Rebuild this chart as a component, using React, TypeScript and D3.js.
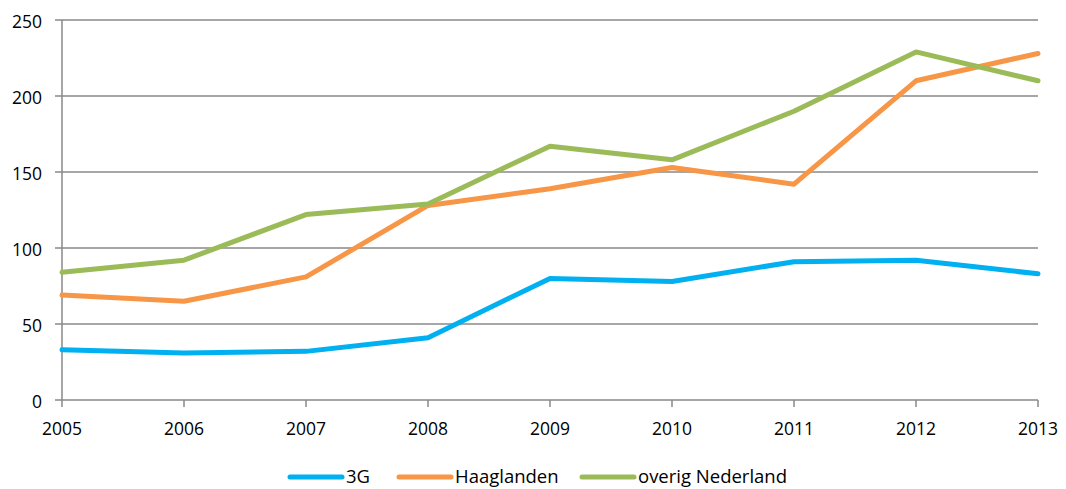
import React from "react";
import * as d3 from "d3";

const years = [2005, 2006, 2007, 2008, 2009, 2010, 2011, 2012, 2013];
const g3 = [33, 31, 32, 41, 80, 78, 91, 92, 83];
const haaglanden = [69, 65, 81, 128, 139, 153, 142, 210, 228];
const overig = [84, 92, 122, 129, 167, 158, 190, 229, 210];
const yTicks = [0, 50, 100, 150, 200, 250];

const seriesNames = ["3G", "Haaglanden", "overig Nederland"];
const seriesColors = ["#00B0F0", "#F79646", "#9BBB59"];
const seriesValues = [g3, haaglanden, overig];

export default function App() {
  const W = 1066, H = 489;
  const x = d3.scaleLinear().domain([2005, 2013]).range([62, 1038]);
  const y = d3.scaleLinear().domain([0, 250]).range([400, 20]);
  const line = d3
    .line<number>()
    .x((_, i) => x(years[i]))
    .y((d) => y(d));
  const font = "'Open Sans', sans-serif";
  const legendX = [290, 399, 582];
  return (
    <svg width={W} height={H} style={{ position: "absolute", left: 0, top: 0 }} fontFamily={font}>
      {yTicks.map((t) => (
        <g key={t}>
          {t > 0 && (
            <line x1={x(2005)} x2={x(2013)} y1={y(t)} y2={y(t)} stroke="#888" strokeWidth={1.5} />
          )}
          <line x1={55} x2={62} y1={y(t)} y2={y(t)} stroke="#888" strokeWidth={1.5} />
          <text x={42} y={y(t) + 1} textAnchor="end" dominantBaseline="central" fontSize={17.5} fill="#000">
            {t}
          </text>
        </g>
      ))}
      <line x1={62} x2={62} y1={y(250)} y2={y(0)} stroke="#888" strokeWidth={1.5} />
      <line x1={62} x2={x(2013)} y1={y(0)} y2={y(0)} stroke="#888" strokeWidth={1.5} />
      {years.map((yr) => (
        <g key={yr}>
          <line x1={x(yr)} x2={x(yr)} y1={400} y2={407} stroke="#888" strokeWidth={1.5} />
          <text x={x(yr)} y={435} textAnchor="middle" fontSize={17.5} fill="#000">
            {yr}
          </text>
        </g>
      ))}
      {seriesValues.map((vals, i) => (
        <path
          key={i}
          d={line(vals) || ""}
          fill="none"
          stroke={seriesColors[i]}
          strokeWidth={5}
          strokeLinejoin="round"
          strokeLinecap="round"
        />
      ))}
      {seriesNames.map((n, i) => (
        <g key={n}>
          <line
            x1={legendX[i]}
            x2={legendX[i] + 52}
            y1={477}
            y2={477}
            stroke={seriesColors[i]}
            strokeWidth={5}
            strokeLinecap="round"
          />
          <text x={legendX[i] + 56} y={483} fontSize={18.5} fill="#000">
            {n}
          </text>
        </g>
      ))}
    </svg>
  );
}
